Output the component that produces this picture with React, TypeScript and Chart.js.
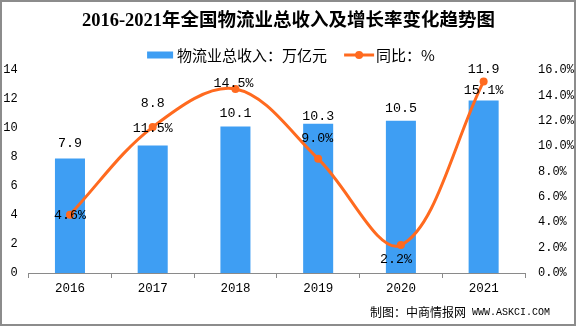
import React, { useEffect, useRef } from 'react';
import { Chart, registerables } from 'chart.js';

Chart.register(...registerables);

// ---- data ----
const years = ['2016', '2017', '2018', '2019', '2020', '2021'];
const revenue = [7.9, 8.8, 10.1, 10.3, 10.5, 11.9]; // 万亿元
const growth = [4.6, 11.5, 14.5, 9.0, 2.2, 15.1]; // %
const leftMax = 14;
const leftStep = 2;
const rightMax = 16;
const rightStep = 2;

// ---- text ----
const titleText = '2016-2021年全国物流业总收入及增长率变化趋势图';
const barSeriesName = '物流业总收入：万亿元';
const lineSeriesName = '同比：%';
const sourceCn = '制图：中商情报网';
const sourceUrl = 'WWW.ASKCI.COM';

// ---- label placement (pixels, as in the reference) ----
const barLabelLift = [15, 42, 13, 7, 12, 31];
const lineLabelDx = [0, 0, -2, -1, -5, 0];
const lineLabelDy = [1, 1, -6, -20, 14, 9];

const BAR = '#3E9EF3';
const LINE = '#FF6A1F';
const AXIS = '#8a8a8a';
const MONO = '"Liberation Mono", "DejaVu Sans Mono", monospace';
const CJK = '"Noto Sans CJK SC", "Noto Sans", sans-serif';

const decorPlugin = {
  id: 'decor',
  beforeDraw(chart: any) {
    const { ctx, width, height } = chart;
    ctx.save();
    ctx.fillStyle = '#ffffff';
    ctx.fillRect(0, 0, width, height);

    // title
    ctx.fillStyle = '#000';
    ctx.font = `bold 18.5px "Liberation Serif", ${CJK}`;
    ctx.textAlign = 'center';
    ctx.textBaseline = 'middle';
    ctx.fillText(titleText, 288.5, 21);

    // legend
    ctx.font = `15px ${CJK}`;
    const w1 = ctx.measureText(barSeriesName).width;
    const w2 = ctx.measureText(lineSeriesName).width;
    const total = 26 + 4 + w1 + 17 + 30 + 2 + w2;
    let x = 291 - total / 2;
    const ly = 55;
    ctx.fillStyle = BAR;
    ctx.fillRect(x, ly - 3.5, 26, 7);
    x += 30;
    ctx.fillStyle = '#000';
    ctx.textAlign = 'left';
    ctx.fillText(barSeriesName, x, ly);
    x += w1 + 17;
    ctx.strokeStyle = LINE;
    ctx.lineWidth = 3;
    ctx.beginPath();
    ctx.moveTo(x, ly);
    ctx.lineTo(x + 30, ly);
    ctx.stroke();
    ctx.fillStyle = LINE;
    ctx.beginPath();
    ctx.arc(x + 15, ly, 4, 0, Math.PI * 2);
    ctx.fill();
    x += 32;
    ctx.fillStyle = '#000';
    ctx.fillText(lineSeriesName, x, ly);

    // source
    ctx.font = `12px ${CJK}`;
    ctx.fillText(sourceCn, 370, 312);
    const cw = ctx.measureText(sourceCn).width;
    ctx.font = `10px ${MONO}`;
    ctx.fillText(sourceUrl, 370 + cw + 6, 312);
    ctx.restore();
  },
  afterDatasetsDraw(chart: any) {
    const { ctx } = chart;
    ctx.save();
    ctx.fillStyle = '#000';
    ctx.font = `13.3px ${MONO}`;
    ctx.textAlign = 'center';
    ctx.textBaseline = 'middle';
    const barMeta = chart.getDatasetMeta(0);
    barMeta.data.forEach((el: any, i: number) => {
      ctx.fillText(String(revenue[i].toFixed(1)), el.x, el.y - barLabelLift[i]);
    });
    const lineMeta = chart.getDatasetMeta(1);
    lineMeta.data.forEach((el: any, i: number) => {
      ctx.fillText(growth[i].toFixed(1) + '%', el.x + lineLabelDx[i], el.y + lineLabelDy[i]);
    });
    ctx.restore();
  },
  afterDraw(chart: any) {
    const { ctx, width, height } = chart;
    ctx.save();
    ctx.strokeStyle = '#8c8c8c';
    ctx.lineWidth = 2;
    ctx.strokeRect(1, 1, width - 2, height - 2);
    ctx.restore();
  },
};

export default function App() {
  const ref = useRef<HTMLCanvasElement | null>(null);
  useEffect(() => {
    if (!ref.current) return;
    const chart = new Chart(ref.current, {
      type: 'bar',
      data: {
        labels: years,
        datasets: [
          {
            type: 'bar',
            label: barSeriesName,
            data: revenue,
            backgroundColor: BAR,
            borderWidth: 0,
            yAxisID: 'y',
            barPercentage: 0.363,
            categoryPercentage: 1,
            order: 1,
          },
          {
            type: 'line',
            label: lineSeriesName,
            data: growth,
            borderColor: LINE,
            backgroundColor: LINE,
            borderWidth: 3,
            pointRadius: 4,
            pointBackgroundColor: LINE,
            pointBorderWidth: 0,
            tension: 0.35,
            yAxisID: 'y1',
            order: 0,
          } as any,
        ],
      },
      options: {
        animation: false,
        responsive: false,
        devicePixelRatio: 1,
        layout: { padding: { top: 70, left: 0, right: 0, bottom: 0 } },
        plugins: {
          legend: { display: false },
          title: { display: false },
          tooltip: { enabled: false },
        },
        scales: {
          x: {
            offset: true,
            grid: {
              display: true,
              drawOnChartArea: false,
              drawTicks: true,
              tickLength: 5,
              color: AXIS,
              offset: true,
            },
            border: { display: true, color: AXIS, width: 1 },
            ticks: { color: '#000', font: { family: MONO, size: 12.5 }, padding: 3, maxRotation: 0 },
            afterFit: (s: any) => { s.height = 53; },
          },
          y: {
            position: 'left',
            min: 0,
            max: leftMax,
            ticks: { stepSize: leftStep, color: '#000', font: { family: MONO, size: 12 }, padding: 11 },
            grid: { display: false, drawTicks: false },
            border: { display: false },
            afterFit: (s: any) => { s.width = 28.6; },
          },
          y1: {
            position: 'right',
            min: 0,
            max: rightMax,
            ticks: {
              stepSize: rightStep,
              color: '#000',
              font: { family: MONO, size: 12 },
              padding: 13,
              callback: (v: any) => Number(v).toFixed(1) + '%',
            },
            grid: { display: false, drawTicks: false },
            border: { display: false },
            afterFit: (s: any) => { s.width = 51; },
          },
        },
      } as any,
      plugins: [decorPlugin],
    });
    return () => chart.destroy();
  }, []);
  return (
    <div style={{ position: 'fixed', left: 0, top: 0, width: 576, height: 326 }}>
      <canvas ref={ref} width={576} height={326} style={{ width: 576, height: 326, display: 'block' }} />
    </div>
  );
}
